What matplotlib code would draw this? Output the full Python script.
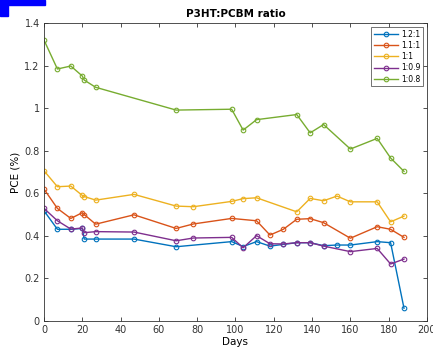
import matplotlib.pyplot as plt
from matplotlib.patches import Rectangle
from matplotlib.ticker import FuncFormatter

days_blue = [0, 7, 14, 20, 21, 27, 47, 69, 98, 104, 111, 118, 125, 132, 139, 146, 153, 160, 174, 181, 188]
pce_blue = [0.518, 0.431, 0.431, 0.435, 0.385, 0.385, 0.385, 0.349, 0.373, 0.350, 0.373, 0.352, 0.360,
            0.368, 0.368, 0.354, 0.357, 0.357, 0.373, 0.368, 0.060]

days_orange = [0, 7, 14, 20, 21, 27, 47, 69, 78, 98, 111, 118, 125, 132, 139, 146, 160, 174, 181, 188]
pce_orange = [0.620, 0.529, 0.482, 0.509, 0.500, 0.455, 0.499, 0.435, 0.456, 0.482, 0.471, 0.404,
              0.431, 0.478, 0.481, 0.462, 0.389, 0.443, 0.431, 0.393]

days_yellow = [0, 7, 14, 20, 21, 27, 47, 69, 78, 98, 104, 111, 132, 139, 146, 153, 160, 174, 181, 188]
pce_yellow = [0.706, 0.631, 0.634, 0.590, 0.585, 0.568, 0.595, 0.540, 0.537, 0.562, 0.575, 0.579,
              0.513, 0.576, 0.565, 0.587, 0.560, 0.560, 0.466, 0.493]

days_purple = [0, 7, 14, 20, 21, 27, 47, 69, 78, 98, 104, 111, 118, 125, 132, 139, 146, 160, 174, 181, 188]
pce_purple = [0.529, 0.471, 0.432, 0.437, 0.415, 0.420, 0.418, 0.377, 0.390, 0.393, 0.344, 0.401,
              0.363, 0.362, 0.368, 0.368, 0.352, 0.326, 0.341, 0.268, 0.291]

days_green = [0, 7, 14, 20, 21, 27, 69, 98, 104, 111, 132, 139, 146, 160, 174, 181, 188]
pce_green = [1.320, 1.184, 1.198, 1.151, 1.132, 1.098, 0.991, 0.995, 0.897, 0.946, 0.970, 0.884,
             0.923, 0.808, 0.858, 0.766, 0.703]

labels = ["1.2:1", "1.1:1", "1:1", "1:0.9", "1:0.8"]
colors = ["#0072BD", "#D95319", "#EDB120", "#7E2F8E", "#77AC30"]
series = [(days_blue, pce_blue), (days_orange, pce_orange), (days_yellow, pce_yellow),
          (days_purple, pce_purple), (days_green, pce_green)]

fig = plt.figure(figsize=(4.33, 3.52), dpi=100)
ax = fig.add_axes([0.1016, 0.088, 0.8845, 0.8466])

for (d, v), lab, c in zip(series, labels, colors):
    ax.plot(d, v, "-o", color=c, lw=1.0, ms=3.3, mfc="none", mew=0.8, label=lab)

ax.set_xlim(0, 200)
ax.set_ylim(0, 1.4)
ax.set_xticks(range(0, 201, 20))
ax.set_yticks([0, 0.2, 0.4, 0.6, 0.8, 1.0, 1.2, 1.4])
ax.yaxis.set_major_formatter(FuncFormatter(lambda v, p: f"{v:g}"))
ax.tick_params(direction="in", top=True, right=True, labelsize=7, length=3,
               width=0.6, colors="#333333", pad=3)
for s in ax.spines.values():
    s.set_linewidth(0.6)
    s.set_color("#333333")

ax.set_title("P3HT:PCBM ratio", fontsize=7.5, fontweight="bold", pad=4)
ax.set_xlabel("Days", fontsize=7.5, labelpad=1)
ax.set_ylabel("PCE (%)", fontsize=7.5, labelpad=3)

leg = ax.legend(loc="upper right", fontsize=5.5, frameon=True, fancybox=False,
                edgecolor="#333333", handlelength=3.2, borderaxespad=0.5,
                labelspacing=0.3, handletextpad=0.4, borderpad=0.35)
leg.get_frame().set_linewidth(0.6)

# blue marker in the top-left corner of the original image
fig.patches.append(Rectangle((0, 1 - 5 / 352), 45 / 433, 5 / 352, transform=fig.transFigure,
                             color="#0000FF", zorder=10))
fig.patches.append(Rectangle((0, 1 - 16 / 352), 8 / 433, 16 / 352, transform=fig.transFigure,
                             color="#0000FF", zorder=10))

fig.savefig("out.png", dpi=100)
